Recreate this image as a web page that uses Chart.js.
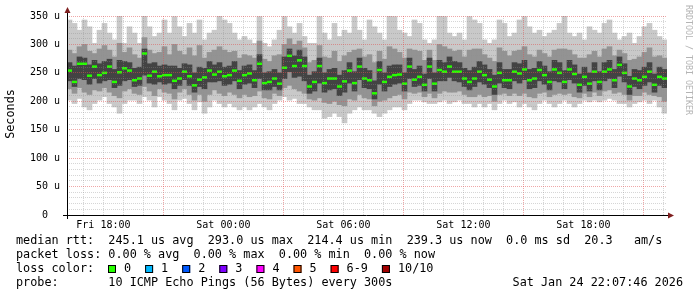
<!DOCTYPE html>
<html>
<head>
<meta charset="utf-8">
<script src="https://cdn.jsdelivr.net/npm/chart.js@4.4.1/dist/chart.umd.min.js"></script>
<style>
  html, body { margin: 0; padding: 0; background: #fff; }
  #wrap { position: relative; width: 697px; height: 297px; }
</style>
</head>
<body>
<div id="wrap"><canvas id="smoke-chart" width="697" height="297"></canvas></div>
<script>
// one sample every 15 min over 30 h, hours counted from Fri 00:00
const startHour = 16.18;
const stepHours = 0.25;

// median rtt (us)
const median = [
  254,234,266,266,245,261,246,250,261,234,251,258,254,237,240,284,245,252,244,246,246,236,240,252,244,228,238,242,254,247,
  252,244,246,254,236,246,249,237,266,232,234,240,231,259,280,262,272,262,226,234,262,232,240,240,226,235,254,232,261,240,
  237,214,255,234,243,246,247,231,261,238,243,229,261,231,255,252,261,252,252,240,234,240,252,246,238,226,250,237,237,252,
  249,256,237,240,255,246,234,256,250,234,256,248,229,243,231,252,234,252,256,237,264,250,226,240,237,243,252,229,243,240
];
// smoke: outer (min..max), middle, inner ping spread
const lightMax = [
  343,337,325,343,331,302,325,337,320,308,352,302,331,320,302,355,331,314,320,343,320,349,331,314,337,320,343,308,320,325,
  355,343,337,320,308,314,308,302,349,302,296,308,325,349,331,320,337,314,302,302,349,320,308,337,314,325,320,349,325,308,
  343,331,320,308,355,349,325,320,314,343,337,308,302,308,355,349,320,314,320,308,349,343,337,308,302,308,343,337,314,320,
  343,349,331,320,325,314,320,325,337,355,320,314,320,308,331,325,320,337,343,320,308,314,320,302,314,331,337,325,314,308
];
const lightMin = [
  202,196,205,190,185,196,202,208,196,190,179,196,202,202,196,208,202,190,208,202,196,185,202,205,196,185,199,179,190,202,
  196,190,196,190,185,190,185,190,196,190,185,196,202,208,202,205,196,196,190,185,185,170,173,179,173,162,179,185,190,185,
  185,179,173,179,185,190,190,185,196,202,202,199,196,196,199,202,196,199,202,196,196,190,196,190,196,185,196,202,196,199,
  190,196,190,185,196,202,196,190,196,202,196,190,196,202,199,202,199,202,205,202,196,196,190,196,199,202,196,202,190,179
];
const midHi = [
  290,284,296,300,288,284,292,298,290,278,302,286,294,282,276,312,290,284,286,296,282,300,288,282,294,280,298,276,286,290,
  296,290,286,288,276,282,280,276,306,274,270,280,282,300,310,300,306,294,268,272,298,278,276,288,270,280,286,290,292,278,
  282,268,288,274,296,292,286,276,292,290,288,272,290,272,300,296,292,288,290,278,290,292,292,282,276,270,294,288,280,288,
  290,296,282,278,290,284,278,290,292,292,290,282,276,276,282,288,278,292,296,280,290,284,272,274,278,286,294,278,280,276
];
const midLo = [
  222,214,224,216,212,220,218,224,216,210,206,218,222,214,212,226,218,210,222,216,214,204,216,222,212,202,212,200,212,220,
  214,210,216,212,206,212,208,210,218,206,204,214,210,224,228,222,218,214,204,202,206,198,196,200,194,192,204,202,212,206,
  204,192,200,202,206,210,212,204,216,214,216,208,214,206,214,218,216,216,218,212,208,208,212,208,210,200,212,214,210,214,
  210,214,208,206,214,216,208,212,214,212,214,208,206,214,208,216,210,218,220,214,216,212,202,210,210,216,212,210,208,200
];
const darkHi = [
  268,262,278,276,264,272,266,270,274,256,272,270,268,258,260,292,266,268,262,264,262,262,258,266,264,250,260,258,270,264,
  268,260,262,270,254,262,264,254,282,250,252,256,250,278,292,280,290,278,246,252,276,250,256,258,246,254,268,252,276,258,
  254,236,270,250,262,264,264,250,276,256,262,248,276,250,272,268,278,270,268,258,254,260,270,264,256,246,268,256,256,268,
  266,272,256,258,270,262,252,272,268,254,272,264,248,260,250,268,252,268,272,256,278,266,244,256,254,260,268,248,260,256
];
const darkLo = [
  236,226,240,238,230,240,232,236,238,224,228,236,238,226,228,246,232,230,234,230,232,222,228,238,228,216,226,222,234,234,
  236,228,230,236,222,230,232,224,240,220,220,226,220,240,252,242,244,236,214,218,232,216,220,222,210,216,232,218,238,224,
  222,204,230,218,226,230,232,218,240,226,228,218,240,218,236,236,242,236,234,226,220,226,234,230,224,212,232,224,222,236,
  232,238,222,224,236,230,220,236,234,222,238,232,216,228,218,236,220,236,240,224,244,234,212,226,222,228,234,216,228,224
];

const yTickStep = 10;
const dayNames = ['Fri', 'Sat'];
const lossLabels = ['0', '1', '2', '3', '4', '5', '6-9', '10/10'];
const lossColors = ['#26ff00', '#00b8ff', '#0059ff', '#7e00ff', '#ff00ff', '#ff5500', '#ff0000', '#a10000'];
const statLines = [
  'median rtt:  245.1 us avg  293.0 us max  214.4 us min  239.3 us now  0.0 ms sd  20.3   am/s',
  'packet loss: 0.00 % avg  0.00 % max  0.00 % min  0.00 % now'
];
const probeText = 'probe:       10 ICMP Echo Pings (56 Bytes) every 300s';
const stampText = 'Sat Jan 24 22:07:46 2026';

const mono = '"DejaVu Sans Mono", monospace';
const slotX = i => startHour + (i + 0.5) * stepHours;

function band(label, lo, hi, color, order) {
  return {
    type: 'bar',
    label: label,
    data: lo.map((v, i) => ({ x: slotX(i), y: [v, hi[i]] })),
    backgroundColor: color,
    borderWidth: 0,
    barPercentage: 1,
    categoryPercentage: 1,
    grouped: false,
    order: order
  };
}

const decor = {
  id: 'decor',
  afterDraw(chart) {
    const { ctx, chartArea: a } = chart;
    ctx.save();
    // axes
    ctx.strokeStyle = '#000';
    ctx.lineWidth = 1;
    ctx.beginPath();
    ctx.moveTo(a.left - 4, a.bottom + 0.5);
    ctx.lineTo(a.right + 3, a.bottom + 0.5);
    ctx.moveTo(a.left + 0.5, a.bottom + 4);
    ctx.lineTo(a.left + 0.5, a.top - 4);
    ctx.stroke();
    // arrows
    ctx.fillStyle = '#7f1f1f';
    ctx.beginPath();
    ctx.moveTo(a.left + 0.5, a.top - 9);
    ctx.lineTo(a.left - 2.5, a.top - 3);
    ctx.lineTo(a.left + 3.5, a.top - 3);
    ctx.closePath();
    ctx.fill();
    ctx.beginPath();
    ctx.moveTo(a.right + 7, a.bottom + 0.5);
    ctx.lineTo(a.right + 1, a.bottom - 2.5);
    ctx.lineTo(a.right + 1, a.bottom + 3.5);
    ctx.closePath();
    ctx.fill();

    // y title
    ctx.fillStyle = '#000';
    ctx.font = '11.8px ' + mono;
    ctx.textBaseline = 'middle';
    ctx.save();
    ctx.translate(11, 114);
    ctx.rotate(-Math.PI / 2);
    ctx.textAlign = 'center';
    ctx.fillText('Seconds', 0, 0);
    ctx.restore();

    // watermark
    ctx.save();
    ctx.translate(688, 5);
    ctx.rotate(Math.PI / 2);
    ctx.textAlign = 'left';
    ctx.fillStyle = '#b4b4b4';
    ctx.font = '8.3px ' + mono;
    ctx.fillText('RRDTOOL / TOBI OETIKER', 0, 0);
    ctx.restore();

    // legend block
    ctx.textAlign = 'left';
    ctx.fillText(statLines[0], 16, 241);
    ctx.fillText(statLines[1], 16, 255);
    ctx.fillText('loss color:', 16, 269);
    let bx = 108;
    lossLabels.forEach((lab, i) => {
      ctx.fillStyle = lossColors[i];
      ctx.fillRect(bx, 265, 8, 8);
      ctx.strokeStyle = '#000';
      ctx.strokeRect(bx + 0.5, 265.5, 7, 7);
      ctx.fillStyle = '#000';
      ctx.fillText(lab, bx + 16, 269);
      bx += 16 + ctx.measureText(lab).width + 14;
    });
    ctx.fillText(probeText, 16, 283);
    ctx.textAlign = 'right';
    ctx.fillText(stampText, 683, 283);
    ctx.restore();
  }
};

new Chart(document.getElementById('smoke-chart'), {
  type: 'bar',
  data: {
    datasets: [
      {
        type: 'line',
        label: 'median',
        data: median.map((v, i) => ({ x: slotX(i), y: v })),
        showLine: false,
        pointStyle: 'line',
        pointRadius: 2.5,
        pointBorderWidth: 2.5,
        pointBorderColor: lossColors[0],
        pointBackgroundColor: lossColors[0],
        order: 0
      },
      band('inner', darkLo, darkHi, '#434343', 1),
      band('middle', midLo, midHi, '#939393', 2),
      band('outer', lightMin, lightMax, '#c9c9c9', 3)
    ]
  },
  options: {
    responsive: false,
    animation: false,
    devicePixelRatio: 1,
    layout: { padding: { left: 0, right: 30, top: 16, bottom: 62 } },
    scales: {
      x: {
        type: 'linear',
        offset: false,
        min: startHour,
        max: startHour + median.length * stepHours,
        afterBuildTicks: scale => {
          const t = [];
          for (let h = Math.ceil(scale.min); h <= Math.floor(scale.max); h++) t.push({ value: h });
          scale.ticks = t;
        },
        afterFit: scale => { scale.height = 20; },
        border: { display: false, dash: [1, 1] },
        grid: {
          offset: false,
          drawTicks: false,
          z: 1,
          color: c => (c.tick && c.tick.value % 6 === 3) ? 'rgba(224,80,80,0.5)' : 'rgba(140,140,140,0.36)'
        },
        ticks: {
          autoSkip: false,
          maxRotation: 0,
          padding: 4,
          color: '#000',
          font: { family: mono, size: 10 },
          callback: v => {
            if (v % 6 !== 0) return '';
            const hh = v % 24;
            return dayNames[Math.floor(v / 24)] + ' ' + String(hh).padStart(2, '0') + ':00';
          }
        }
      },
      y: {
        min: 0,
        max: 350,
        afterFit: scale => { scale.width = 67; },
        border: { display: false, dash: [1, 1] },
        grid: {
          drawTicks: false,
          z: 1,
          color: c => (c.tick && c.tick.value % 50 === 0) ? 'rgba(224,80,80,0.5)' : 'rgba(140,140,140,0.36)'
        },
        ticks: {
          stepSize: yTickStep,
          autoSkip: false,
          padding: 7,
          color: '#000',
          font: { family: mono, size: 10 },
          callback: v => v % 50 !== 0 ? '' : (v === 0 ? '0  ' : v + ' u')
        }
      }
    },
    plugins: {
      legend: { display: false },
      tooltip: { enabled: false }
    }
  },
  plugins: [decor]
});
</script>
</body>
</html>
